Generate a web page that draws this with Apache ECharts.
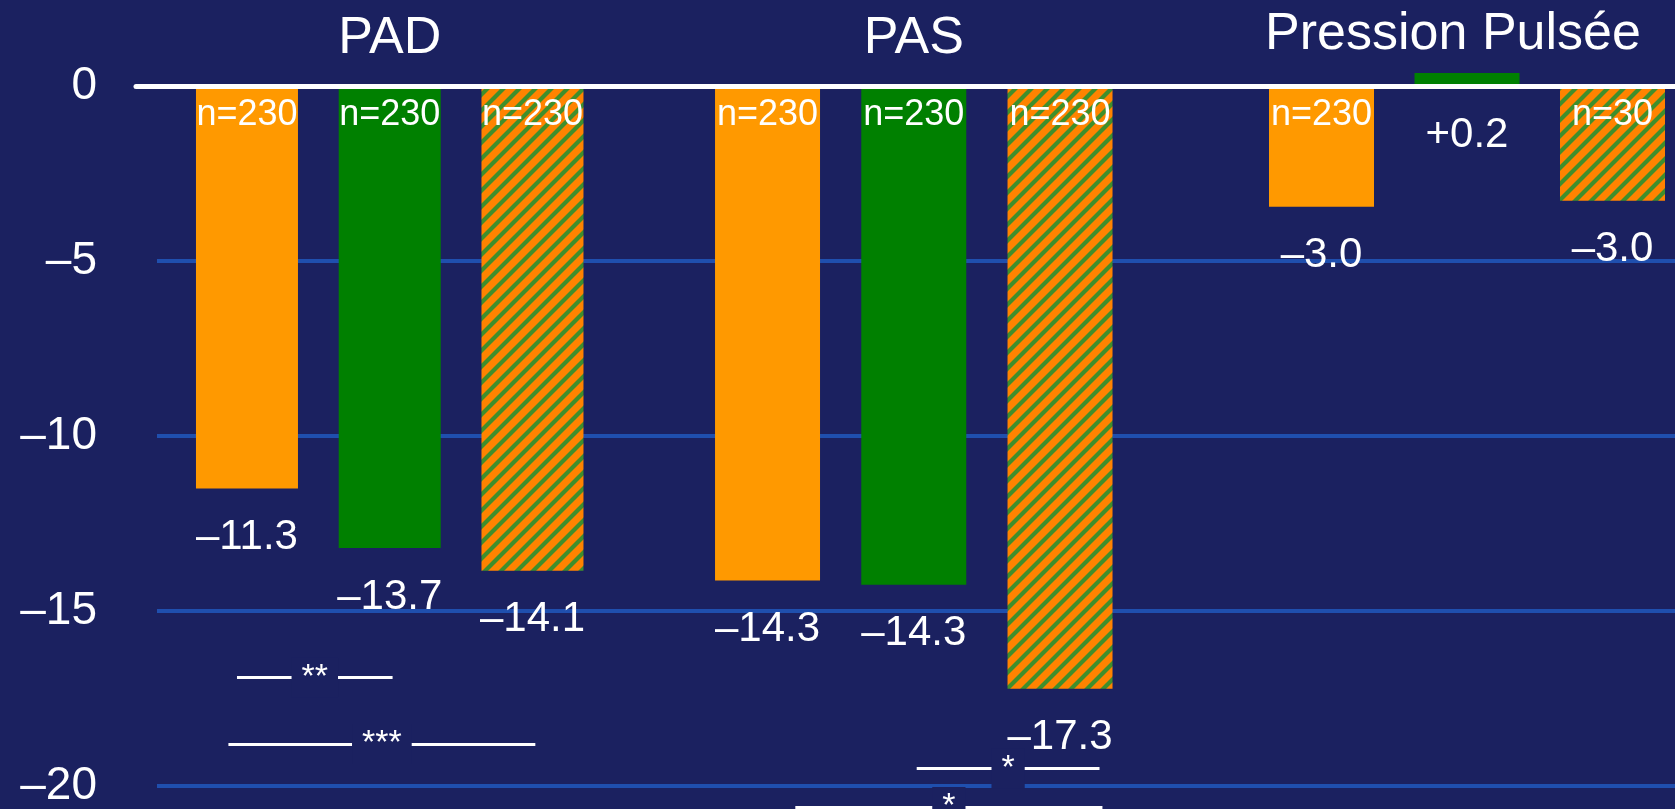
<!DOCTYPE html>
<html>
<head>
<meta charset="utf-8">
<script src="https://cdn.jsdelivr.net/npm/echarts@6/dist/echarts.min.js"></script>
<style>
html,body{margin:0;padding:0;background:#1b2160;}
#chart{width:1675px;height:809px;}
</style>
</head>
<body>
<div id="chart"></div>
<script>
// ---- data ----
const groupTitles = ['PAD', 'PAS', 'Pression Pulsée'];
const barKinds = ['A', 'B', 'A+B'];
const yTicks = [0, -5, -10, -15, -20];

// bar lengths
const padValues = [-11.5, -13.2, -13.85];
const pasValues = [-14.13, -14.25, -17.22];
const ppValues = [-3.45, 0.37, -3.28];

// printed value labels
const padLabels = ['–11.3', '–13.7', '–14.1'];
const pasLabels = ['–14.3', '–14.3', '–17.3'];
const ppLabels = ['–3.0', '+0.2', '–3.0'];

// sample sizes
const padN = [230, 230, 230];
const pasN = [230, 230, 230];
const ppN = [230, null, 30];

// significance brackets (span in category-index units, value level, mark)
const padBrackets = [
  { from: -0.07, to: 1.02, y: -16.9, mark: '**' },
  { from: -0.13, to: 2.02, y: -18.8, mark: '***' }
];
const pasBrackets = [
  { from: 1.02, to: 2.27, y: -19.5, mark: '*' },
  { from: 0.19, to: 2.29, y: -20.6, mark: '*' }
];
const ppBrackets = [];

// ---- styles ----
const BG = '#1b2160';
const FONT = "'Liberation Sans', Arial, sans-serif";
const ORANGE = '#ff9900';
const GREEN = '#008000';

function makeHatch() {
  const s = 16;
  const c = document.createElement('canvas');
  c.width = s; c.height = s;
  const ctx = c.getContext('2d');
  ctx.fillStyle = '#ff8300';
  ctx.fillRect(0, 0, s, s);
  ctx.strokeStyle = '#3f8f2c';
  ctx.lineWidth = 4.2;
  ctx.beginPath();
  ctx.moveTo(0, s); ctx.lineTo(s, 0);
  ctx.moveTo(-s / 2, s / 2); ctx.lineTo(s / 2, -s / 2);
  ctx.moveTo(s / 2, s * 1.5); ctx.lineTo(s * 1.5, s / 2);
  ctx.stroke();
  return c;
}
const HATCH = { image: makeHatch(), repeat: 'repeat' };
const barColors = [ORANGE, GREEN, HATCH];

const groups = [
  { title: groupTitles[0], values: padValues, labels: padLabels, n: padN, brackets: padBrackets,
    grid: { left: 175.6, width: 428.25 }, barWidth: 102, namePad: [0, 0, 0, 0] },
  { title: groupTitles[1], values: pasValues, labels: pasLabels, n: pasN, brackets: pasBrackets,
    grid: { left: 694.4, width: 438.75 }, barWidth: 105, namePad: [0, 0, 0, 0] },
  { title: groupTitles[2], values: ppValues, labels: ppLabels, n: ppN, brackets: ppBrackets,
    grid: { left: 1248.75, width: 436.5 }, barWidth: 105, namePad: [0, 28, 4, 0] }
];

const yMin = Math.min.apply(null, yTicks);
const yMax = Math.max.apply(null, yTicks);
const yStep = yTicks[0] - yTicks[1];

const grids = [
  { left: 157, right: 0, top: 86, bottom: 23, outerBoundsMode: 'none', containLabel: false },
  { left: 136, right: 0, top: 86, bottom: 23, outerBoundsMode: 'none', containLabel: false }
];
const xAxes = [
  { gridIndex: 0, type: 'category', data: [''], show: false },
  { gridIndex: 1, type: 'category', data: [''], position: 'top', z: 5,
    axisLine: { show: true, onZero: false, lineStyle: { color: '#ffffff', width: 5 } },
    axisTick: { show: false }, axisLabel: { show: false }, splitLine: { show: false } }
];
const yAxes = [
  { gridIndex: 0, type: 'value', min: yMin, max: yMax, interval: yStep,
    axisLine: { show: false }, axisTick: { show: false },
    axisLabel: { color: '#ffffff', fontSize: 46, fontFamily: FONT, margin: 60,
      formatter: v => v === 0 ? '0' : (v < 0 ? '–' + Math.abs(v) : String(v)) },
    splitLine: { show: true, showMaxLine: false, lineStyle: { color: '#1f4fae', width: 4 } } },
  { gridIndex: 1, type: 'value', min: yMin, max: yMax, show: false }
];
const series = [];

groups.forEach((g, k) => {
  const gi = grids.length;
  grids.push({ left: g.grid.left, width: g.grid.width, top: 68.5, bottom: -12,
    outerBoundsMode: 'none', containLabel: false });

  const xCat = xAxes.length;
  xAxes.push({
    gridIndex: gi, type: 'category', data: barKinds, position: 'top',
    axisLine: { show: false }, axisTick: { show: false }, axisLabel: { show: false },
    splitLine: { show: false },
    name: g.title, nameLocation: 'middle', nameGap: 3.5,
    nameTextStyle: { color: '#ffffff', fontSize: 52, fontFamily: FONT, padding: g.namePad }
  });
  // continuous twin of the category axis (index units) for the brackets
  const xVal = xAxes.length;
  xAxes.push({ gridIndex: gi, type: 'value', min: -0.5, max: barKinds.length - 0.5, show: false });

  const yi = yAxes.length;
  yAxes.push({ gridIndex: gi, type: 'value', min: -21, max: 0.5, show: false });

  series.push({
    type: 'bar', xAxisIndex: xCat, yAxisIndex: yi, barWidth: g.barWidth, clip: false, z: 2,
    data: g.values.map((v, i) => ({ value: v, itemStyle: { color: barColors[i] } })),
    label: {
      show: true, position: 'bottom', distance: 28, color: '#ffffff',
      fontSize: 42, lineHeight: 42, fontFamily: FONT,
      formatter: p => g.labels[p.dataIndex]
    }
  });
  series.push({
    type: 'bar', xAxisIndex: xCat, yAxisIndex: yi, barWidth: g.barWidth, barGap: '-100%',
    clip: false, z: 3, silent: true,
    data: g.values.slice(),
    itemStyle: { color: 'rgba(0,0,0,0)' },
    label: {
      show: true, position: 'insideTop', distance: 11, color: '#ffffff',
      fontSize: 36, lineHeight: 36, fontFamily: FONT,
      formatter: p => (g.n[p.dataIndex] == null ? '' : 'n=' + g.n[p.dataIndex])
    }
  });
  if (g.brackets.length) {
    series.push({
      type: 'line', xAxisIndex: xVal, yAxisIndex: yi, data: [], showSymbol: false,
      clip: false, z: 4, silent: true,
      markLine: {
        silent: true, symbol: 'none', animation: false,
        lineStyle: { color: '#ffffff', width: 3, type: 'solid' },
        label: {
          show: true, position: 'middle', distance: [0, -20],
          color: '#ffffff', fontSize: 34, lineHeight: 40, fontFamily: FONT,
          backgroundColor: BG, padding: [0, 10]
        },
        emphasis: { disabled: true },
        data: g.brackets.map(b => [
          { coord: [b.from, b.y], label: { formatter: b.mark } },
          { coord: [b.to, b.y] }
        ])
      }
    });
  }
});

const chart = echarts.init(document.getElementById('chart'), null, { renderer: 'canvas' });
chart.setOption({
  backgroundColor: BG,
  animation: false,
  textStyle: { fontFamily: FONT },
  grid: grids,
  xAxis: xAxes,
  yAxis: yAxes,
  series: series
});
</script>
</body>
</html>
